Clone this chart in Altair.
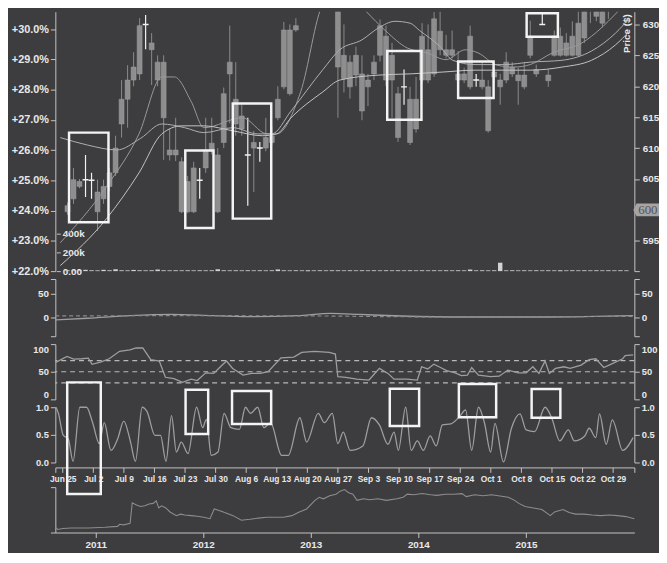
import altair as alt
import pandas as pd

# ---------------- data ----------------
opens = [599.7, 601.8, 604.6, 604.9, 604.8, 602.9, 601.8, 603.8, 606.0, 613.9,
         617.9, 621.0, 622.0, 630.0, 627.0, 623.9, 623.9, 609.7, 608.9, 607.8,
         599.7, 606.8, 604.8, 606.8, 609.7, 608.9, 610.9, 622.0, 617.9, 615.2,
         608.9, 610.0, 610.0, 610.0, 610.9, 614.9, 619.9, 629.1, 629.1, 634.0,
         637.0, 640.0, 644.0, 641.0, 638.0, 635.0, 621.2, 623.9, 621.8, 622.0,
         619.9, 622.0, 625.0, 628.1, 621.0, 618.8, 619.9, 617.9, 613.1, 621.0,
         625.9, 622.0, 628.9, 625.9, 625.0, 622.0, 621.0, 619.9, 621.0, 621.0,
         619.9, 621.5, 621.0, 621.0, 623.1, 621.8, 621.8, 625.0, 622.7, 630.0,
         621.8, 625.0, 628.1, 625.0, 625.0, 630.2, 627.8, 633.0, 631.3, 630.2,
         633.0, 634.0, 635.0, 636.0]
highs = [601.2, 606.8, 605.0, 608.9, 606.0, 604.9, 604.9, 606.8, 612.0, 621.0,
         623.4, 625.5, 631.0, 631.5, 628.6, 625.0, 625.0, 613.1, 614.9, 608.5,
         605.5, 607.8, 606.8, 614.9, 614.9, 610.0, 619.8, 629.8, 623.9, 617.0,
         614.9, 612.8, 611.0, 614.9, 613.5, 620.0, 630.4, 630.0, 631.0, 640.0,
         643.0, 646.0, 647.0, 643.0, 641.0, 636.5, 630.0, 625.0, 626.4, 625.0,
         622.0, 625.0, 630.8, 629.8, 627.0, 619.9, 622.7, 619.9, 621.5, 630.2,
         630.0, 632.0, 632.5, 628.3, 629.0, 625.7, 623.0, 629.8, 622.0, 623.9,
         621.0, 623.0, 622.0, 625.5, 623.9, 623.0, 623.9, 630.6, 623.5, 631.8,
         622.7, 629.0, 629.5, 628.6, 630.5, 632.5, 633.0, 635.0, 633.5, 633.0,
         635.0, 636.5, 637.5, 638.5]
lows = [599.2, 601.0, 603.5, 602.1, 601.8, 596.6, 601.0, 603.0, 605.5, 611.7,
        613.3, 620.0, 621.0, 626.0, 620.2, 620.0, 608.1, 608.0, 607.9, 599.5,
        599.5, 599.5, 601.8, 606.0, 609.0, 599.5, 610.0, 614.0, 612.0, 612.0,
        600.7, 602.9, 607.8, 609.5, 610.5, 614.5, 619.5, 618.5, 628.8, 633.0,
        635.5, 638.0, 640.0, 637.0, 633.5, 614.9, 619.0, 618.0, 620.0, 614.5,
        616.8, 621.0, 624.0, 620.0, 614.9, 611.0, 617.0, 610.5, 612.5, 620.5,
        620.5, 621.5, 625.0, 624.5, 624.5, 620.5, 620.5, 619.5, 619.9, 619.5,
        612.5, 620.5, 617.0, 620.5, 621.5, 617.0, 619.5, 624.5, 621.5, 630.0,
        619.9, 624.8, 624.8, 624.8, 624.8, 624.8, 627.0, 630.2, 630.5, 629.5,
        630.9, 632.5, 633.0, 634.0]
closes = [600.7, 604.9, 603.8, 604.9, 604.8, 599.7, 603.8, 606.0, 610.0, 617.9,
          621.0, 623.1, 629.8, 630.0, 625.9, 621.0, 614.9, 608.9, 609.7, 599.7,
          604.6, 599.7, 604.8, 609.7, 610.8, 599.7, 618.8, 623.9, 613.9, 613.1,
          608.9, 610.9, 610.0, 611.7, 612.0, 617.9, 629.1, 618.8, 629.8, 638.0,
          642.0, 644.0, 641.0, 638.0, 635.0, 623.1, 625.0, 619.9, 625.0, 616.0,
          621.0, 623.9, 629.8, 621.0, 625.0, 611.7, 619.9, 610.9, 617.9, 628.1,
          621.0, 630.9, 625.9, 625.0, 625.9, 621.0, 622.0, 628.1, 621.0, 619.9,
          612.8, 622.3, 619.9, 623.9, 622.0, 620.9, 619.9, 628.1, 622.0, 630.0,
          620.9, 628.1, 625.0, 627.0, 628.1, 625.0, 632.5, 634.5, 633.0, 632.2,
          635.0, 636.0, 637.0, 638.0]
volumes = [9000, 8000, 9000, 14000, 9000, 8000, 14000, 9000, 20000, 9000,
           8000, 13000, 9000, 8000, 9000, 17000, 9000, 8000, 9000, 8000,
           9000, 8000, 9000, 8000, 9000, 20000, 9000, 8000, 9000, 8000,
           9000, 8000, 9000, 8000, 9000, 18000, 9000, 8000, 9000, 8000,
           9000, 8000, 9000, 8000, 9000, 9000, 8000, 9000, 8000, 9000,
           8000, 9000, 8000, 9000, 8000, 9000, 8000, 9000, 8000, 9000,
           8000, 9000, 8000, 9000, 8000, 9000, 8000, 17000, 8000, 9000,
           8000, 9000, 90000, 8000, 9000, 8000, 9000, 8000, 9000, 8000,
           9000, 8000, 9000, 8000, 9000, 8000, 9000, 8000, 9000, 8000,
           9000, 8000, 9000, 8000]

week_ticks = [0, 5, 10, 15, 20, 25, 30, 35, 40, 45, 50, 55, 60, 65, 70, 75, 80, 85, 90]
week_labels = ["Jun 25", "Jul 2", "Jul 9", "Jul 16", "Jul 23", "Jul 30", "Aug 6",
               "Aug 13", "Aug 20", "Aug 27", "Sep 3", "Sep 10", "Sep 17",
               "Sep 24", "Oct 1", "Oct 8", "Oct 15", "Oct 22", "Oct 29"]

ma_fast_day = [-1.2, 6.5, 11.9, 15.7, 17.8, 20.6, 22.7, 29.1, 33.2, 34.8, 38.8, 42.5,
               46.0, 49.6, 53.0, 56.5, 59.8, 63.0, 66.2, 68.3, 71.5, 74.3, 77.0,
               80.7, 85.6, 88.8, 91.2, 93.5]
ma_fast_val = [594.7, 603.8, 612.3, 621.5, 621.5, 617.5, 613.3, 614.9, 612.3, 612.3,
               619.1, 633.3, 636.0, 632.2, 628.9, 626.2, 625.4, 624.3, 625.9, 625.4,
               623.4, 623.1, 623.5, 625.4, 627.0, 629.4, 631.7, 634.0]
ma_mid_day = [-1.2, 3.3, 8.2, 12.2, 15.7, 19.5, 22.7, 27.5, 31.6, 34.0, 37.2, 42.5,
              45.3, 49.0, 51.7, 54.5, 57.0, 58.6, 61.9, 64.1, 67.8, 72.7, 77.0,
              82.3, 87.2, 91.2, 93.5]
ma_mid_val = [611.7, 610.5, 609.7, 611.6, 613.9, 613.3, 612.5, 613.3, 612.3, 612.3,
              616.0, 622.7, 625.9, 627.5, 629.4, 630.5, 630.2, 629.0, 626.5, 624.2,
              623.5, 623.5, 623.9, 624.2, 625.7, 628.6, 631.0]
ma_slow_day = [-1.2, 6.5, 11.9, 15.7, 19.0, 22.7, 27.5, 32.4, 34.8, 37.2, 42.5, 45.3,
               51.7, 57.0, 62.5, 67.8, 77.0, 82.3, 87.2, 91.2, 93.5]
ma_slow_val = [591.0, 598.6, 606.0, 612.3, 613.6, 613.6, 612.8, 612.0, 612.3, 614.9,
               619.1, 621.0, 621.8, 622.0, 622.3, 622.6, 622.6, 623.1, 624.2, 626.7,
               628.9]

macd_day = [-1.2, 4.1, 11.0, 17.8, 24.7, 31.5, 38.4, 43.9, 48.7, 55.5, 65.8, 79.5, 93.3]
macd_val = [-5.5, -2.0, 3.5, 6.0, 3.5, 1.4, 3.5, 8.3, 6.0, 2.8, 0.7, 0.7, 3.5]
signal_day = [-1.2, 20.0, 40.0, 60.0, 93.3]
signal_val = [3.0, 3.5, 3.0, 1.0, 2.0]

rsi_day = [-1.2, 0.7, 1.8, 3.1, 4.2, 4.8, 6.2, 7.6, 9.3, 11.0, 12.0, 13.1, 14.4, 15.8,
           16.8, 18.2, 19.6, 21.0, 22.0, 23.4, 24.7, 25.8, 26.8, 27.8, 29.5, 30.9,
           32.3, 33.6, 35.7, 37.8, 39.1, 41.2, 43.6, 44.6, 45.0, 46.3, 48.1, 50.1,
           51.8, 53.2, 54.2, 56.3, 58.0, 58.7, 59.7, 60.7, 61.8, 62.8, 64.2, 65.2,
           66.2, 66.9, 68.0, 70.0, 71.4, 72.8, 74.5, 75.8, 76.9, 77.9, 78.9, 79.6,
           80.6, 82.0, 83.0, 84.8, 86.1, 87.2, 88.5, 89.9, 91.6, 92.0, 93.3]
rsi_val = [66.5, 77.6, 73.0, 73.5, 74.7, 63.5, 67.6, 73.5, 87.0, 89.4, 93.0, 93.0, 71.8,
           69.4, 40.0, 37.6, 31.0, 36.5, 34.0, 48.0, 47.0, 59.0, 69.4, 56.0, 44.0,
           47.0, 47.0, 50.0, 75.0, 76.5, 85.0, 87.0, 85.0, 82.0, 41.0, 40.0, 36.5,
           35.0, 56.0, 47.0, 36.5, 36.5, 35.0, 59.0, 55.0, 63.5, 57.6, 52.0, 48.0,
           43.0, 44.0, 57.6, 44.0, 41.0, 42.0, 53.0, 48.0, 48.0, 59.0, 47.0, 69.4,
           47.0, 56.0, 59.0, 56.0, 62.0, 71.8, 73.5, 57.6, 64.7, 73.5, 79.0, 80.6]
rsi_levels = [70, 50, 30]

stoch_day = [-1.1, -0.7, 0.1, 0.9, 1.7, 2.8, 3.9, 4.9, 6.0, 6.8, 7.9, 9.0, 10.0, 11.1,
             11.9, 13.0, 13.8, 15.1, 16.0, 16.9, 17.8, 18.6, 19.4, 20.5, 21.9, 22.9,
             23.5, 24.3, 25.4, 26.4, 27.5, 28.9, 29.9, 30.7, 31.9, 32.9, 34.0, 35.8,
             36.9, 38.8, 39.9, 41.8, 42.8, 44.1, 45.0, 45.9, 47.0, 49.1, 50.5, 51.8,
             53.2, 54.2, 54.9, 56.1, 57.0, 58.0, 59.0, 60.1, 61.1, 62.1, 63.5, 64.9,
             65.9, 66.9, 68.0, 69.0, 70.0, 70.7, 72.1, 73.4, 74.8, 75.8, 77.2, 78.9,
             80.0, 81.3, 82.7, 83.7, 85.4, 86.1, 87.2, 87.8, 88.9, 89.9, 91.6, 93.3]
stoch_val = [1.0, 0.89, 0.49, 0.43, 0.02, 1.0, 1.0, 0.72, 0.34, 0.72, 0.22, 0.43, 0.75,
             0.37, 0.02, 1.0, 0.92, 0.49, 0.49, 0.02, 0.85, 0.19, 0.37, 0.16, 1.0, 0.63,
             0.78, 0.13, 0.19, 0.89, 0.63, 0.60, 1.0, 0.89, 1.0, 0.63, 0.72, 0.13, 0.13,
             0.81, 0.37, 0.89, 0.72, 0.89, 0.34, 0.55, 0.22, 0.30, 0.81, 0.68, 0.33,
             0.55, 0.22, 1.0, 0.22, 0.39, 0.22, 0.48, 0.30, 0.68, 0.70, 0.83, 0.95,
             0.22, 1.0, 0.71, 0.19, 0.71, 0.01, 0.62, 0.88, 0.59, 0.56, 1.0, 0.80,
             0.39, 0.59, 0.39, 0.48, 0.62, 0.45, 0.88, 0.33, 0.77, 0.22, 0.45]

nav_year = [2010.625, 2010.648, 2010.695, 2010.773, 2010.930, 2011.086, 2011.203,
            2011.223, 2011.262, 2011.320, 2011.340, 2011.379, 2011.418, 2011.457,
            2011.496, 2011.535, 2011.563, 2011.586, 2011.613, 2011.652, 2011.691,
            2011.750, 2011.789, 2011.828, 2011.887, 2011.945, 2012.004, 2012.063,
            2012.102, 2012.141, 2012.199, 2012.277, 2012.355, 2012.434, 2012.512,
            2012.590, 2012.668, 2012.746, 2012.824, 2012.883, 2012.961, 2013.039,
            2013.078, 2013.117, 2013.176, 2013.234, 2013.273, 2013.313, 2013.352,
            2013.391, 2013.430, 2013.488, 2013.547, 2013.625, 2013.703, 2013.801,
            2013.859, 2013.898, 2013.957, 2014.035, 2014.113, 2014.172, 2014.250,
            2014.328, 2014.406, 2014.445, 2014.523, 2014.602, 2014.680, 2014.758,
            2014.836, 2014.895, 2014.934, 2014.992, 2015.070, 2015.148, 2015.227,
            2015.266, 2015.344, 2015.402, 2015.461, 2015.539, 2015.617, 2015.695,
            2015.773, 2015.852, 2015.930, 2016.008]
nav_val = [11.5, 6.8, 8.8, 10.1, 10.1, 11.5, 13.5, 18.2, 16.9, 20.3, 65.5, 60.8, 57.4,
           58.8, 62.8, 64.2, 69.6, 54.1, 58.8, 54.1, 45.3, 37.2, 40.5, 38.5, 37.2, 35.8,
           33.8, 30.4, 52.0, 49.3, 43.9, 37.2, 27.0, 29.1, 31.8, 33.8, 33.8, 33.8, 37.2,
           43.9, 52.0, 70.9, 77.7, 74.3, 81.1, 84.5, 91.2, 94.6, 87.8, 84.5, 70.9, 74.3,
           72.3, 74.3, 70.9, 74.3, 77.7, 84.5, 83.1, 85.8, 83.1, 81.8, 84.5, 84.5, 85.8,
           79.1, 83.1, 81.1, 83.1, 80.4, 77.7, 70.9, 64.2, 57.4, 54.1, 50.7, 37.2, 45.3,
           50.7, 43.9, 40.5, 40.5, 38.5, 37.2, 38.5, 37.2, 35.1, 30.4]
year_ticks = [2011, 2012, 2013, 2014, 2015]
year_labels = ["2011", "2012", "2013", "2014", "2015"]

# highlight boxes (trading-day range, value range)
pbox_d0 = [0.26, 19.6, 27.5, 53.2, 65.0, 76.4]
pbox_d1 = [6.82, 24.3, 33.9, 58.9, 70.9, 81.6]
pbox_p0 = [598.0, 597.1, 598.6, 614.6, 618.1, 628.0]
pbox_p1 = [612.5, 609.6, 617.2, 625.7, 624.0, 631.8]
sbox_d0 = [0.74, 20.1, 27.7, 53.5, 64.8, 76.7]
sbox_d1 = [6.23, 23.8, 34.1, 58.3, 70.9, 81.4]
sbox_v0 = [-0.57, 0.516, 0.696, 0.661, 0.82, 0.81]
sbox_v1 = [1.45, 1.316, 1.293, 1.333, 1.42, 1.33]

last_price = 600

# ---------------- styling ----------------
BG = "#3d3d3f"
AXIS = "#c4c4c4"
LABEL = "#e8e8e8"
BODY = "#8e8e8e"
WICK = "#8a8a8a"
LINE = "#9e9e9e"
FONT = "'Liberation Sans', Arial, sans-serif"
W = 587
SP = 8
X_DOM = [-1.2, 93.5]
P_DOM = [590.11, 632.05]

def xs():
    return alt.Scale(domain=X_DOM, nice=False, zero=False)

XE = alt.X("d:Q", scale=xs(), axis=None)

candles = pd.DataFrame({"d": list(range(len(opens))), "open": opens, "high": highs,
                        "low": lows, "close": closes, "vol": volumes})

PRICE_AXIS = alt.Axis(orient="right", values=[P_DOM[0]] + list(range(595, 631, 5)),
                      labelExpr="(datum.value < 591 || datum.value == 600) ? '' : datum.label",
                      format="d", title="Price ($)", titleAngle=270, titleX=-3, titleY=2,
                      titleAlign="right", titleBaseline="bottom", tickSize=5, labelPadding=3)

def ps():
    return alt.Scale(domain=P_DOM, nice=False, zero=False)

base = alt.Chart(candles)
wicks = base.transform_filter("datum.open != datum.close").mark_rule(
    color=WICK, strokeWidth=1, clip=True).encode(
    x=XE, y=alt.Y("low:Q", scale=ps(), axis=PRICE_AXIS), y2="high:Q")
bodies = base.transform_filter("datum.open != datum.close").mark_bar(
    size=5, color=BODY, stroke="#a0a0a0", strokeWidth=0.5, clip=True).encode(
    x=XE, y=alt.Y("open:Q", scale=ps(), axis=PRICE_AXIS), y2="close:Q")
doji_w = base.transform_filter("datum.open == datum.close").mark_rule(
    color="#f2f2f2", strokeWidth=1.2, clip=True).encode(
    x=XE, y=alt.Y("low:Q", scale=ps(), axis=PRICE_AXIS), y2="high:Q")
doji_t = base.transform_filter("datum.open == datum.close").mark_rule(
    color="#f2f2f2", strokeWidth=1.5, xOffset=-3, x2Offset=3, clip=True).encode(
    x=XE, x2="d:Q", y=alt.Y("close:Q", scale=ps(), axis=PRICE_AXIS))

ma_df = pd.concat([
    pd.DataFrame({"d": ma_fast_day, "v": ma_fast_val, "s": "fast"}),
    pd.DataFrame({"d": ma_mid_day, "v": ma_mid_val, "s": "mid"}),
    pd.DataFrame({"d": ma_slow_day, "v": ma_slow_val, "s": "slow"}),
])
mas = alt.Chart(ma_df).mark_line(strokeWidth=1, clip=True, interpolate="monotone").encode(
    x=XE, y=alt.Y("v:Q", scale=ps(), axis=PRICE_AXIS),
    color=alt.Color("s:N", scale=alt.Scale(domain=["fast", "mid", "slow"],
                                           range=["#9a9a9a", "#b0b0b0", "#c4c4c4"]), legend=None))

pbox = pd.DataFrame({"d0": pbox_d0, "d1": pbox_d1, "p0": pbox_p0, "p1": pbox_p1})
pboxes = alt.Chart(pbox).mark_rect(fillOpacity=0, stroke="#f4f4f4", strokeWidth=2.5).encode(
    x=alt.X("d0:Q", scale=xs(), axis=None), x2="d1:Q",
    y=alt.Y("p0:Q", scale=ps(), axis=PRICE_AXIS), y2="p1:Q")

badge_df = pd.DataFrame({"p": [last_price]})
badge = alt.Chart(badge_df).mark_point(
    shape="M -1 0 L -0.75 -0.5 L 1 -0.5 L 1 0.5 L -0.75 0.5 Z", size=676, filled=True,
    fill="#a5a5a5", opacity=1, strokeWidth=0, clip=False).encode(
    x=alt.value(W + 12), y=alt.Y("p:Q", scale=ps(), axis=PRICE_AXIS))
badge_txt = alt.Chart(badge_df).mark_text(
    align="left", baseline="middle", fontSize=13, font="Liberation Serif", color="#555555",
    clip=False).encode(x=alt.value(W + 4), y=alt.Y("p:Q", scale=ps(), axis=PRICE_AXIS),
                       text=alt.Text("p:Q", format="d"))

price_group = alt.layer(wicks, bodies, doji_w, doji_t, mas, pboxes, badge, badge_txt)

pct_df = pd.DataFrame({"d": [0], "pct": [0.26]})
pct_layer = alt.Chart(pct_df).mark_point(opacity=0).encode(
    x=XE, y=alt.Y("pct:Q", scale=alt.Scale(domain=[0.22, 0.3058], nice=False, zero=False),
                  axis=alt.Axis(orient="left", values=[0.22 + i * 0.01 for i in range(9)],
                                format="+.1%", labelFontSize=11, tickSize=5, labelPadding=2,
                                title=None)))

vol_layer = base.mark_bar(size=4.5, color="#d2d2d2").encode(
    x=XE, y=alt.Y("vol:Q", scale=alt.Scale(domain=[0, 2770000], nice=False),
                  axis=alt.Axis(orient="left", offset=-5, values=[0, 200000, 400000],
                                labelExpr="datum.value == 0 ? '0.00' : format(datum.value, '~s')",
                                domain=False, tickSize=4, labelAlign="left", labelPadding=-6,
                                title=None)))

main = alt.layer(price_group, pct_layer, vol_layer).resolve_scale(y="independent").properties(
    width=W, height=263)

# ---------- MACD ----------
M_DOM = [-40, 81]
def macd_axis(orient):
    return alt.Axis(orient=orient, values=[-40, 0, 50, 81],
                    labelExpr="(datum.value == 0 || datum.value == 50) ? datum.label : ''",
                    title=None, tickSize=5)
macd_df = pd.DataFrame({"d": macd_day, "v": macd_val})
sig_df = pd.DataFrame({"d": signal_day, "v": signal_val})
ms = lambda: alt.Scale(domain=M_DOM, nice=False, zero=False)
macd_line = alt.Chart(macd_df).mark_line(color=LINE, strokeWidth=1.3, interpolate="monotone").encode(
    x=XE, y=alt.Y("v:Q", scale=ms(), axis=macd_axis("left")))
sig_line = alt.Chart(sig_df).mark_line(color="#8a8a8a", strokeWidth=1.2, strokeDash=[4, 3],
                                       interpolate="monotone").encode(
    x=XE, y=alt.Y("v:Q", scale=ms(), axis=macd_axis("left")))
macd_r = alt.Chart(macd_df).mark_line(opacity=0).encode(
    x=XE, y=alt.Y("v:Q", scale=ms(), axis=macd_axis("right")))
macd = alt.layer(alt.layer(macd_line, sig_line), macd_r).resolve_scale(y="independent").properties(
    width=W, height=58)

# ---------- RSI ----------
rs = lambda: alt.Scale(domain=[0, 100], nice=False, zero=False)
def rsi_axis(orient):
    return alt.Axis(orient=orient, values=[0, 50, 100], title=None, tickSize=5,
                    labelFontSize=9.5, labelFlush=True)
rsi_df = pd.DataFrame({"d": rsi_day, "v": rsi_val})
lvl_df = pd.DataFrame({"v": rsi_levels})
rsi_line = alt.Chart(rsi_df).mark_line(color=LINE, strokeWidth=1.3).encode(
    x=XE, y=alt.Y("v:Q", scale=rs(), axis=rsi_axis("left")))
rsi_lvls = alt.Chart(lvl_df).mark_rule(color="#b8b8b8", strokeWidth=1.2, strokeDash=[5, 4]).encode(
    y=alt.Y("v:Q", scale=rs(), axis=rsi_axis("left")))
rsi_r = alt.Chart(rsi_df).mark_line(opacity=0).encode(
    x=XE, y=alt.Y("v:Q", scale=rs(), axis=rsi_axis("right")))
rsi = alt.layer(alt.layer(rsi_lvls, rsi_line), rsi_r).resolve_scale(y="independent").properties(
    width=W, height=56)

# ---------- Stochastic ----------
ss = lambda: alt.Scale(domain=[0, 1], nice=False, zero=False)
def st_axis(orient):
    return alt.Axis(orient=orient, values=[0, 0.5, 1], format=".1f", title=None, tickSize=5,
                    labelFontSize=9.5)
ticks_js = "[" + ",".join(str(t) for t in week_ticks) + "]"
labels_js = "[" + ",".join("'" + s + "'" for s in week_labels) + "]"
X_AXIS = alt.Axis(orient="bottom", offset=5, values=[X_DOM[0]] + week_ticks + [X_DOM[1]],
                  labelExpr=f"indexof({ticks_js}, datum.value) >= 0 ? {labels_js}[indexof({ticks_js}, datum.value)] : ''",
                  labelOverlap=False, labelFontSize=8.5, tickSize=5, labelPadding=2, title=None)
st_df = pd.DataFrame({"d": stoch_day, "v": stoch_val})
st_line = alt.Chart(st_df).mark_line(color=LINE, strokeWidth=1.3, interpolate="monotone").encode(
    x=alt.X("d:Q", scale=xs(), axis=X_AXIS), y=alt.Y("v:Q", scale=ss(), axis=st_axis("left")))
sbox = pd.DataFrame({"d0": sbox_d0, "d1": sbox_d1, "v0": sbox_v0, "v1": sbox_v1})
sboxes = alt.Chart(sbox).mark_rect(fillOpacity=0, stroke="#f4f4f4", strokeWidth=2.5, clip=False).encode(
    x=alt.X("d0:Q", scale=xs(), axis=X_AXIS), x2="d1:Q",
    y=alt.Y("v0:Q", scale=ss(), axis=st_axis("left")), y2="v1:Q")
st_r = alt.Chart(st_df).mark_line(opacity=0).encode(
    x=alt.X("d:Q", scale=xs(), axis=X_AXIS), y=alt.Y("v:Q", scale=ss(), axis=st_axis("right")))
stoch = alt.layer(alt.layer(st_line, sboxes), st_r).resolve_scale(y="independent").properties(
    width=W, height=56)

# ---------- spacer between the date axis and the navigator ----------
spacer = alt.Chart(pd.DataFrame({"a": [0]})).mark_point(opacity=0).encode(
    x=alt.X("a:Q", axis=None), y=alt.Y("a:Q", axis=None)).properties(width=W, height=9)

# ---------- Navigator ----------
N_DOM = [2010.625, 2016.008]
yt_js = "[" + ",".join(str(t) for t in year_ticks) + "]"
yl_js = "[" + ",".join("'" + s + "'" for s in year_labels) + "]"
nav_df = pd.DataFrame({"t": nav_year, "v": nav_val})
nav = alt.Chart(nav_df).mark_line(color="#8c8c8c", strokeWidth=1.1).encode(
    x=alt.X("t:Q", scale=alt.Scale(domain=N_DOM, nice=False, zero=False),
            axis=alt.Axis(values=year_ticks,
                          labelExpr=f"{yl_js}[indexof({yt_js}, round(datum.value))]",
                          labelOverlap=False, labelFlush=False, tickSize=5, labelPadding=2,
                          title=None)),
    y=alt.Y("v:Q", scale=alt.Scale(domain=[0, 100], nice=False),
            axis=alt.Axis(values=[0, 100], labels=False, tickSize=5, title=None)),
).properties(width=W, height=46)

chart = alt.vconcat(main, macd, rsi, stoch, spacer, nav, spacing=SP, bounds="flush").properties(
    background=BG, padding={"left": 3, "top": 0, "right": 0, "bottom": 0}
).configure_view(stroke=None).configure_axis(
    labelFont=FONT, labelFontWeight="bold", labelColor=LABEL, labelFontSize=10,
    domainColor=AXIS, tickColor=AXIS, grid=False, titleColor=LABEL, titleFont=FONT,
    titleFontWeight="bold", titleFontSize=10)

chart.save("out.html", embed_options={"renderer": "svg", "actions": False})
